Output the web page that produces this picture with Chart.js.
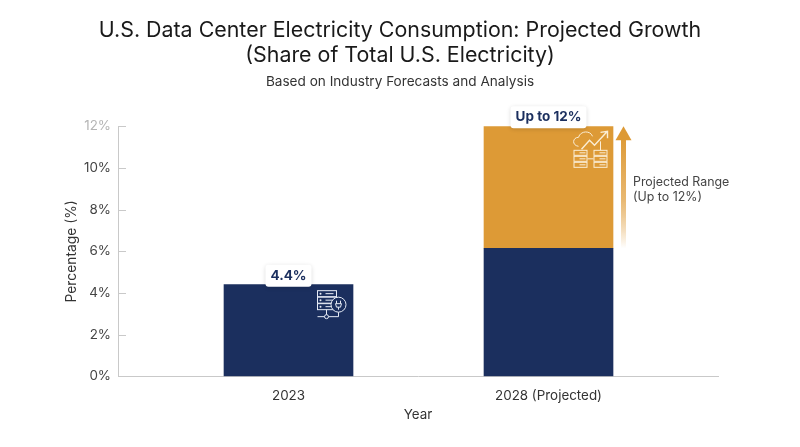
<!DOCTYPE html>
<html>
<head>
<meta charset="utf-8">
<script src="https://cdn.jsdelivr.net/npm/chart.js@4/dist/chart.umd.min.js"></script>
<style>
  html, body { margin: 0; padding: 0; background: #fff; }
  #wrap { width: 800px; height: 447px; }
</style>
</head>
<body>
<div id="wrap"><canvas id="chart" width="800" height="447"></canvas></div>
<script>
const FONT = 'Inter, "Noto Sans", sans-serif';
const NAVY = '#1b2f5e';
const ORANGE = '#dd9a36';

const categories = ['2023', '2028 (Projected)'];
const positions = [0, 1];
const baseValues = [4.4, 6.15];
const projectedValues = [null, 5.85];
const yTicks = [0, 2, 4, 6, 8, 10, 12];
const topLabels = ['4.4%', 'Up to 12%'];
const titleLines = ['U.S. Data Center Electricity Consumption: Projected Growth', '(Share of Total U.S. Electricity)'];
const subtitle = 'Based on Industry Forecasts and Analysis';
const rangeNote = ['Projected Range', '(Up to 12%)'];

// short ticks that point into the plot instead of outwards
const innerTicks = {
  id: 'innerTicks',
  beforeDatasetsDraw(chart) {
    const { ctx, scales: { x, y } } = chart;
    ctx.save();
    ctx.strokeStyle = '#c9c9c9';
    ctx.lineWidth = 1;
    ctx.beginPath();
    yTicks.forEach(v => {
      const py = Math.round(y.getPixelForValue(v)) + 0.5;
      ctx.moveTo(x.left, py);
      ctx.lineTo(x.left + 8, py);
    });
    ctx.stroke();
    ctx.restore();
  }
};

function serverIcon(ctx, x, y, color) {
  ctx.save();
  ctx.translate(x, y);
  ctx.strokeStyle = color;
  ctx.fillStyle = color;
  ctx.lineWidth = 1;
  [0, 6.5, 13].forEach(dy => {
    ctx.strokeRect(0, dy, 19, 6);
    ctx.beginPath();
    ctx.arc(3, dy + 3, 1, 0, Math.PI * 2);
    ctx.fill();
    ctx.beginPath();
    ctx.moveTo(8, dy + 3);
    ctx.lineTo(16, dy + 3);
    ctx.stroke();
  });
  ctx.fillStyle = NAVY;
  ctx.beginPath();
  ctx.arc(21, 14, 7.5, 0, Math.PI * 2);
  ctx.fill();
  ctx.stroke();
  ctx.beginPath();
  ctx.moveTo(18, 13); ctx.lineTo(24, 13); ctx.lineTo(23, 16.5); ctx.lineTo(19, 16.5); ctx.closePath();
  ctx.moveTo(19, 13); ctx.lineTo(19, 10);
  ctx.moveTo(23, 13); ctx.lineTo(23, 10);
  ctx.moveTo(21, 16.5); ctx.lineTo(21, 19);
  ctx.stroke();
  ctx.beginPath();
  ctx.moveTo(0, 26); ctx.lineTo(7, 26);
  ctx.moveTo(11, 26); ctx.lineTo(21, 26); ctx.lineTo(21, 21.5);
  ctx.moveTo(9, 19); ctx.lineTo(9, 24);
  ctx.stroke();
  ctx.beginPath();
  ctx.arc(9, 26, 2, 0, Math.PI * 2);
  ctx.stroke();
  ctx.restore();
}

function growthIcon(ctx, x, y, color) {
  ctx.save();
  ctx.translate(x, y);
  ctx.strokeStyle = color;
  ctx.lineWidth = 1;
  // cloud outline
  ctx.beginPath();
  ctx.moveTo(5, 15);
  ctx.bezierCurveTo(-2, 14, -1, 6, 5, 6);
  ctx.bezierCurveTo(7, -1, 17, -1, 19, 5);
  ctx.stroke();
  // rising arrow
  ctx.lineWidth = 1.4;
  ctx.beginPath();
  ctx.moveTo(8, 18); ctx.lineTo(16, 9); ctx.lineTo(21, 14); ctx.lineTo(33, 1);
  ctx.moveTo(27, 1); ctx.lineTo(34, 0); ctx.lineTo(34, 7);
  ctx.stroke();
  ctx.lineWidth = 1;
  // two server stacks
  [0, 20].forEach(dx => {
    [19, 25, 31].forEach(dy => {
      ctx.strokeRect(dx + 0.5, dy, 13, 5);
      ctx.beginPath();
      ctx.moveTo(dx + 6, dy + 2.5);
      ctx.lineTo(dx + 12, dy + 2.5);
      ctx.stroke();
    });
  });
  ctx.beginPath();
  ctx.moveTo(14, 27.5); ctx.lineTo(20, 27.5);
  ctx.moveTo(27, 19); ctx.lineTo(27, 10);
  ctx.stroke();
  ctx.restore();
}

const overlays = {
  id: 'overlays',
  afterDatasetsDraw(chart) {
    const { ctx, scales: { x, y } } = chart;
    const bars = chart.getDatasetMeta(0).data;
    const top0 = y.getPixelForValue(baseValues[0]);
    const top1 = y.getPixelForValue(baseValues[1] + projectedValues[1]);

    serverIcon(ctx, bars[0].x + 29, top0 + 6, '#e6ebf5');
    growthIcon(ctx, bars[1].x + 25, top1 + 5, '#fbeed6');

    // value labels on white cards
    ctx.font = '700 13.5px ' + FONT;
    ctx.textAlign = 'center';
    ctx.textBaseline = 'middle';
    [top0, top1].forEach((top, i) => {
      const cx = bars[i].x;
      const w = ctx.measureText(topLabels[i]).width + 10;
      ctx.save();
      ctx.shadowColor = 'rgba(0,0,0,0.15)';
      ctx.shadowBlur = 4;
      ctx.shadowOffsetY = 1;
      ctx.fillStyle = '#fff';
      ctx.beginPath();
      ctx.roundRect(cx - w / 2, top - 20, w, 22, 3);
      ctx.fill();
      ctx.restore();
      ctx.fillStyle = NAVY;
      ctx.fillText(topLabels[i], cx, top - 9);
    });

    // fading range arrow next to the projected bar
    const ax = bars[1].x + 75;
    const axisBase = y.getPixelForValue(baseValues[1]);
    const grad = ctx.createLinearGradient(0, top1 + 10, 0, axisBase);
    grad.addColorStop(0, ORANGE);
    grad.addColorStop(0.55, '#e8b76f');
    grad.addColorStop(1, 'rgba(221,154,54,0)');
    ctx.fillStyle = grad;
    ctx.fillRect(ax - 2.5, top1 + 12, 5, axisBase - top1 - 12);
    ctx.fillStyle = ORANGE;
    ctx.beginPath();
    ctx.moveTo(ax, top1);
    ctx.lineTo(ax + 8, top1 + 14);
    ctx.lineTo(ax - 8, top1 + 14);
    ctx.closePath();
    ctx.fill();

    ctx.fillStyle = '#444';
    ctx.font = '12.4px ' + FONT;
    ctx.textAlign = 'left';
    ctx.fillText(rangeNote[0], 633, 182);
    ctx.fillText(rangeNote[1], 633, 197);
  }
};

new Chart(document.getElementById('chart'), {
  type: 'bar',
  data: {
    datasets: [
      { label: 'Base', data: positions.map((p, i) => ({ x: p, y: baseValues[i] })), backgroundColor: NAVY, barThickness: 129, stack: 's' },
      { label: 'Projected', data: positions.map((p, i) => ({ x: p, y: projectedValues[i] })), backgroundColor: ORANGE, barThickness: 129, stack: 's' }
    ]
  },
  options: {
    responsive: false,
    animation: false,
    layout: { padding: { left: 82, right: 82, top: 0, bottom: 0 } },
    plugins: {
      legend: { display: false },
      tooltip: { enabled: false },
      title: {
        display: true,
        text: titleLines,
        color: '#1a1a1a',
        font: { family: FONT, size: 21.4, weight: '400', lineHeight: 1.18 },
        padding: { top: 18, bottom: 0 }
      },
      subtitle: {
        display: true,
        text: subtitle,
        color: '#333',
        font: { family: FONT, size: 13.6, weight: '400' },
        padding: { top: 5, bottom: 36.5 }
      }
    },
    scales: {
      x: {
        type: 'linear',
        offset: false,
        stacked: true,
        min: -0.6558,
        max: 1.6519,
        afterBuildTicks: scale => { scale.ticks = positions.map(value => ({ value })); },
        grid: { display: false, drawTicks: false },
        border: { color: '#c9c9c9' },
        ticks: {
          callback: v => categories[v],
          color: '#333',
          font: { family: FONT, size: 13.4 },
          padding: 12,
          maxRotation: 0
        },
        title: { display: true, text: 'Year', color: '#333', font: { family: FONT, size: 13.4 }, padding: { top: -9, bottom: 23.5 } }
      },
      y: {
        stacked: true,
        min: 0,
        max: 12,
        // fixed width so the plot starts at 118 while the title stays centred on the page
        afterFit: scale => { scale.width = 36; },
        afterBuildTicks: scale => { scale.ticks = yTicks.map(value => ({ value })); },
        grid: { display: false, drawTicks: false },
        border: { color: '#c9c9c9' },
        ticks: {
          callback: v => v + '%',
          color: c => (c.tick && c.tick.value === 12 ? '#b5b5b5' : '#444'),
          font: { family: FONT, size: 13.4 },
          padding: 7
        },
        title: { display: true, text: 'Percentage (%)', color: '#333', font: { family: FONT, size: 13.8 }, padding: { top: -18, bottom: 0 } }
      }
    }
  },
  plugins: [innerTicks, overlays]
});
</script>
</body>
</html>
